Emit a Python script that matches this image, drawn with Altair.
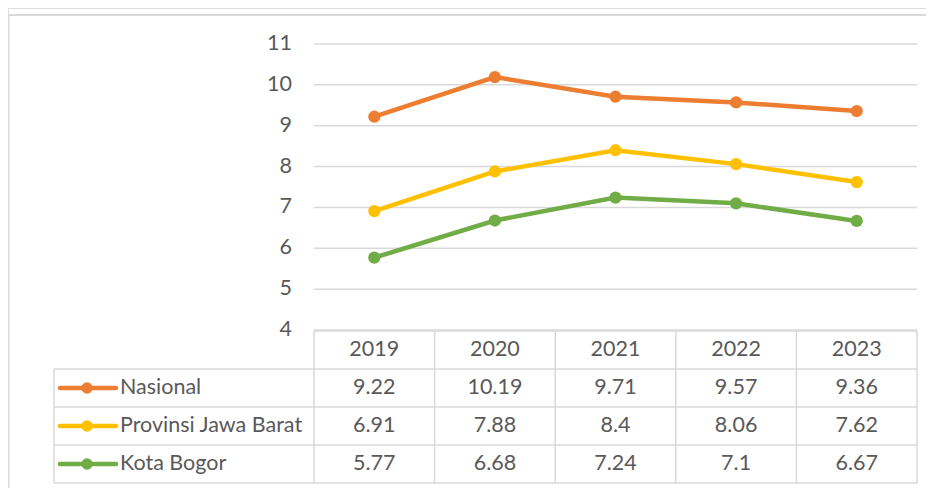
import altair as alt
import pandas as pd

# ---- data ----
years = ["2019", "2020", "2021", "2022", "2023"]
series_names = ["Nasional", "Provinsi Jawa Barat", "Kota Bogor"]
nasional = [9.22, 10.19, 9.71, 9.57, 9.36]
jabar = [6.91, 7.88, 8.4, 8.06, 7.62]
bogor = [5.77, 6.68, 7.24, 7.1, 6.67]
series_values = [nasional, jabar, bogor]
colors = ["#ED7D31", "#FFC000", "#70AD47"]
y_ticks = [4, 5, 6, 7, 8, 9, 10, 11]

# ---- layout helpers (pixel -> scale units) ----
PLOT_LEFT = 314.0
COL_W = 120.6
PX_PER_UNIT = 286.0 / 7.0
VIEW_W, VIEW_H = 918, 480


def cx(px):
    return (px - PLOT_LEFT) / COL_W


def cy(py):
    return 4 + (330.0 - py) / PX_PER_UNIT


xdom = [cx(8), cx(8 + VIEW_W)]
ydom = [cy(8 + VIEW_H), cy(8)]
ncol = len(years)

TEXT = "#595959"
GRID = "#D9D9D9"
FONT = "Lato"
FS = 21.5

# ---- long table ----
rows = []
for name, vals in zip(series_names, series_values):
    for i, (yr, v) in enumerate(zip(years, vals)):
        rows.append({"series": name, "year": yr, "x": i + 0.5, "value": v})
df = pd.DataFrame(rows)

color = alt.Color("series:N", scale=alt.Scale(domain=series_names, range=colors), legend=None)
X = lambda f: alt.X(f, type="quantitative", scale=alt.Scale(domain=xdom, nice=False, zero=False), axis=None)
Y = lambda f: alt.Y(f, type="quantitative", scale=alt.Scale(domain=ydom, nice=False, zero=False), axis=None)

# gridlines
grid_df = pd.DataFrame({"y": y_ticks, "x0": 0, "x1": ncol})
grid = alt.Chart(grid_df).mark_rule(color=GRID, strokeWidth=1.5).encode(
    x=X("x0"), x2="x1", y=Y("y"))
ticklab = alt.Chart(grid_df.assign(xl=cx(292))).mark_text(
    align="right", baseline="middle", font=FONT, fontSize=FS, color=TEXT).encode(
    x=X("xl"), y=Y("y"), text=alt.Text("y:Q"))

lines = alt.Chart(df).mark_line(strokeWidth=4.5).encode(
    x=X("x"), y=Y("value"), color=color, detail="series:N")
points = alt.Chart(df).mark_circle(size=150, opacity=1).encode(
    x=X("x"), y=Y("value"), color=color)

# table geometry
T_TOP = cy(331)
ROW_H = (cy(331) - cy(483)) / 4
bounds = [T_TOP - k * ROW_H for k in range(5)]
LEG_L = cx(54)

tl = []
tl.append({"x0": 0, "x1": ncol, "y0": bounds[0], "y1": bounds[0]})
for b in bounds[1:]:
    tl.append({"x0": LEG_L, "x1": ncol, "y0": b, "y1": b})
for c in range(ncol + 1):
    tl.append({"x0": c, "x1": c, "y0": bounds[0], "y1": bounds[4]})
tl.append({"x0": LEG_L, "x1": LEG_L, "y0": bounds[1], "y1": bounds[4]})
tl_df = pd.DataFrame(tl)
table_lines = alt.Chart(tl_df).mark_rule(color=GRID, strokeWidth=1.5).encode(
    x=X("x0"), x2="x1", y=Y("y0"), y2="y1")

hdr_df = pd.DataFrame({"year": years, "x": [i + 0.5 for i in range(ncol)],
                       "y": bounds[0] - ROW_H / 2})
header = alt.Chart(hdr_df).mark_text(
    align="center", baseline="middle", font=FONT, fontSize=FS, color=TEXT).encode(
    x=X("x"), y=Y("y"), text="year:N")

row_center = {n: bounds[k + 1] - ROW_H / 2 for k, n in enumerate(series_names)}
df["ry"] = df["series"].map(row_center)
df["label"] = [f"{v:g}" for v in df["value"]]
cells = alt.Chart(df).mark_text(
    align="center", baseline="middle", font=FONT, fontSize=FS, color=TEXT).encode(
    x=X("x"), y=Y("ry"), text="label:N")

leg_df = pd.DataFrame({"series": series_names,
                       "ry": [row_center[n] for n in series_names],
                       "l0": cx(60), "l1": cx(116), "lm": cx(87), "lt": cx(120)})
leg_line = alt.Chart(leg_df).mark_rule(strokeWidth=4.5, strokeCap="round").encode(
    x=X("l0"), x2="l1", y=Y("ry"), color=color)
leg_pt = alt.Chart(leg_df).mark_circle(size=130, opacity=1).encode(
    x=X("lm"), y=Y("ry"), color=color)
leg_txt = alt.Chart(leg_df).mark_text(
    align="left", baseline="middle", font=FONT, fontSize=FS, color=TEXT).encode(
    x=X("lt"), y=Y("ry"), text="series:N")

frame_df = pd.DataFrame([
    {"x0": cx(8.5), "x1": cx(934), "y0": cy(15), "y1": cy(15)},
    {"x0": cx(8.5), "x1": cx(8.5), "y0": cy(15), "y1": cy(490)},
])
frame = alt.Chart(frame_df).mark_rule(color=GRID, strokeWidth=2).encode(
    x=X("x0"), x2="x1", y=Y("y0"), y2="y1")

chart = alt.layer(
    frame, grid, ticklab, table_lines, header, cells,
    leg_line, leg_pt, leg_txt, lines, points
).properties(
    width=VIEW_W, height=VIEW_H,
    autosize=alt.AutoSizeParams(type="none"), padding=0,
).configure_view(stroke=None).configure(background="white")

chart.save("out.html", embed_options={"renderer": "svg", "actions": False})
